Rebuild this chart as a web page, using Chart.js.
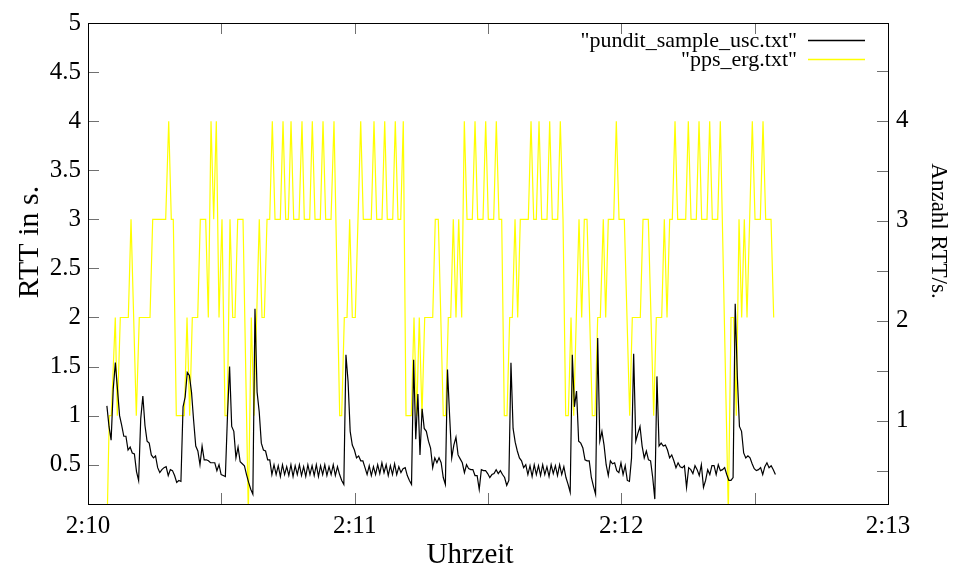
<!DOCTYPE html>
<html>
<head>
<meta charset="utf-8">
<script src="https://cdn.jsdelivr.net/npm/chart.js@4.4.0/dist/chart.umd.min.js"></script>
<style>
body { margin: 0; background: #fff; }
</style>
</head>
<body>
<canvas id="chart" width="954" height="567"></canvas>
<script>
// x axis: seconds after 2:10:00
const xLabelSeconds = [0, 60, 120, 180];
const xLabels = ['2:10', '2:11', '2:12', '2:13'];
const xMinorTicks = [0, 30, 60, 90, 120, 150, 180];
const rttTicks = [0.5, 1, 1.5, 2, 2.5, 3, 3.5, 4, 4.5, 5];
const ppsTicks = [1, 2, 3, 4];
const ppsMinorTicks = [0.5, 1, 1.5, 2, 2.5, 3, 3.5, 4, 4.5];

// "pundit_sample_usc.txt" : RTT samples, one every ~0.476 s from t = 4.25 s
const rttStart = 4.25;
const rttStep = 0.476;
const rttValues = [
  1.10, 0.89, 0.75, 1.27, 1.54, 1.27, 1.00, 0.90, 0.79, 0.79,
  0.65, 0.68, 0.62, 0.61, 0.43, 0.34, 0.97, 1.20, 0.90, 0.74,
  0.72, 0.60, 0.57, 0.59, 0.47, 0.42, 0.45, 0.47, 0.48, 0.39,
  0.45, 0.44, 0.39, 0.32, 0.34, 0.33, 1.09, 1.19, 1.44, 1.41,
  1.24, 0.95, 0.69, 0.64, 0.50, 0.69, 0.55, 0.55, 0.54, 0.52,
  0.52, 0.52, 0.44, 0.50, 0.40, 0.39, 0.38, 1.00, 1.50, 0.89,
  0.84, 0.57, 0.68, 0.53, 0.51, 0.49, 0.40, 0.32, 0.25, 0.20,
  2.09, 1.24, 1.04, 0.72, 0.65, 0.64, 0.55, 0.55, 0.40, 0.50,
  0.40, 0.49, 0.38, 0.50, 0.40, 0.48, 0.39, 0.50, 0.38, 0.49,
  0.40, 0.50, 0.39, 0.48, 0.38, 0.50, 0.40, 0.49, 0.39, 0.50,
  0.38, 0.49, 0.40, 0.50, 0.39, 0.48, 0.40, 0.50, 0.39, 0.48,
  0.40, 0.34, 0.30, 1.62, 1.35, 0.84, 0.70, 0.65, 0.57, 0.59,
  0.54, 0.54, 0.47, 0.40, 0.49, 0.39, 0.48, 0.40, 0.50, 0.41,
  0.52, 0.42, 0.50, 0.39, 0.49, 0.40, 0.51, 0.40, 0.48, 0.42,
  0.46, 0.47, 0.39, 0.34, 0.30, 1.57, 0.76, 1.22, 0.60, 1.07,
  0.87, 0.84, 0.74, 0.67, 0.47, 0.57, 0.52, 0.57, 0.52, 0.37,
  0.30, 1.47, 1.00, 0.57, 0.70, 0.78, 0.60, 0.56, 0.52, 0.42,
  0.50, 0.46, 0.45, 0.45, 0.39, 0.39, 0.25, 0.45, 0.44, 0.44,
  0.41, 0.37, 0.40, 0.41, 0.45, 0.41, 0.44, 0.40, 0.37, 0.29,
  0.34, 1.54, 0.87, 0.73, 0.64, 0.57, 0.54, 0.47, 0.50, 0.40,
  0.49, 0.38, 0.50, 0.40, 0.49, 0.39, 0.50, 0.40, 0.48, 0.38,
  0.50, 0.41, 0.49, 0.39, 0.50, 0.40, 0.48, 0.37, 0.30, 0.22,
  1.62, 1.09, 1.25, 0.74, 0.72, 0.67, 0.55, 0.54, 0.54, 0.37,
  0.28, 0.20, 1.79, 0.74, 0.84, 0.70, 0.50, 0.39, 0.54, 0.51,
  0.52, 0.44, 0.42, 0.52, 0.40, 0.49, 0.34, 0.33, 0.57, 1.63,
  0.74, 0.82, 0.89, 0.69, 0.57, 0.64, 0.55, 0.54, 0.37, 0.15,
  1.40, 0.69, 0.72, 0.69, 0.70, 0.65, 0.57, 0.60, 0.54, 0.47,
  0.52, 0.48, 0.47, 0.49, 0.27, 0.47, 0.45, 0.41, 0.49, 0.45,
  0.39, 0.50, 0.27, 0.34, 0.45, 0.40, 0.49, 0.49, 0.40, 0.50,
  0.44, 0.45, 0.47, 0.40, 0.34, 0.34, 0.37, 2.14, 1.40, 0.89,
  0.84, 0.62, 0.57, 0.59, 0.57, 0.51, 0.46, 0.44, 0.45, 0.47,
  0.40, 0.48, 0.52, 0.47, 0.49, 0.45, 0.40
];

// "pps_erg.txt" : RTTs per second
const ppsTimes = [
  4.34, 4.79, 5.24, 6.14, 6.59, 7.27, 9.07, 9.68, 10.87, 11.54,
  13.95, 14.56, 17.48, 18.16, 18.74, 19.19, 19.87, 21.67, 22.28, 22.88,
  23.47, 24.68, 25.27, 26.48, 27.07, 27.68, 28.28, 28.87, 29.48, 30.15,
  30.83, 31.34, 31.95, 32.56, 33.08, 33.68, 34.88, 36.07, 36.74, 37.35,
  38.54, 39.15, 39.67, 40.28, 40.88, 41.47, 42.08, 43.27, 43.88, 44.48,
  45.07, 45.68, 46.28, 47.48, 48.15, 48.67, 49.88, 50.47, 51.08, 52.27,
  52.88, 53.48, 54.68, 55.35, 56.63, 57.08, 57.67, 58.28, 58.88, 59.47,
  60.14, 61.36, 61.94, 63.74, 64.35, 64.96, 66.15, 66.76, 67.34, 68.56,
  69.14, 69.75, 70.36, 70.94, 71.55, 72.74, 73.35, 73.96, 74.54, 75.15,
  75.76, 77.56, 78.14, 78.82, 79.94, 80.48, 81.07, 81.61, 82.19, 82.80,
  83.41, 84.08, 84.67, 85.28, 86.47, 87.08, 87.68, 88.88, 89.48, 90.07,
  91.28, 91.87, 92.48, 93.08, 93.67, 94.28, 94.88, 95.47, 96.08, 96.68,
  97.27, 99.07, 99.68, 100.28, 100.87, 101.48, 102.08, 103.28, 103.88, 104.47,
  105.68, 106.27, 106.88, 107.48, 108.07, 108.68, 109.28, 109.87, 110.48, 111.08,
  111.67, 112.28, 113.47, 114.08, 114.68, 115.27, 115.94, 116.48, 117.07, 118.28,
  118.87, 119.48, 120.67, 121.88, 122.47, 124.27, 124.88, 126.07, 127.28, 127.87,
  129.08, 129.67, 130.28, 130.88, 131.47, 132.08, 132.68, 134.48, 135.07, 135.68,
  136.87, 137.48, 138.08, 139.28, 139.88, 140.47, 141.68, 142.27, 144.07, 144.68,
  145.28, 145.87, 146.48, 147.08, 147.67, 148.28, 149.47, 150.08, 151.27, 151.88,
  152.48, 153.68, 154.28
];
const ppsValues = [
  0, 1, 1, 2, 1, 2, 2, 3, 1, 2,
  2, 3, 3, 4, 3, 3, 1, 1, 2, 1,
  2, 2, 3, 3, 2, 4, 3, 4, 2, 3,
  1, 1, 3, 2, 2, 3, 3, 0, 2, 1,
  3, 2, 2, 3, 3, 4, 3, 3, 4, 3,
  3, 4, 3, 3, 4, 3, 3, 4, 3, 3,
  4, 3, 3, 4, 1, 1, 2, 2, 3, 2,
  2, 4, 3, 3, 4, 3, 3, 4, 3, 3,
  4, 3, 3, 4, 1, 1, 2, 1, 2, 1,
  2, 2, 3, 3, 1, 1, 2, 2, 3, 2,
  3, 2, 4, 3, 3, 4, 3, 3, 4, 3,
  3, 4, 3, 3, 1, 1, 2, 2, 3, 2,
  3, 3, 4, 3, 3, 4, 3, 3, 4, 3,
  3, 4, 3, 1, 1, 2, 1, 2, 3, 2,
  3, 3, 1, 1, 2, 2, 3, 2, 3, 3,
  4, 3, 3, 1, 2, 2, 3, 3, 1, 2,
  2, 3, 2, 3, 3, 4, 3, 3, 4, 3,
  3, 4, 3, 3, 4, 3, 3, 4, 0, 2,
  2, 1, 3, 2, 3, 2, 4, 3, 3, 4,
  3, 3, 2
];

const seriesNames = ['"pundit_sample_usc.txt"', '"pps_erg.txt"'];
const seriesColors = ['#000000', '#ffff00'];
const axisTitles = { x: 'Uhrzeit', y: 'RTT in s.', y2: 'Anzahl RTT/s.' };

const serif = 'Liberation Serif';
const tickFont = { family: serif, size: 25 };

const rttData = rttValues.map((v, i) => ({ x: rttStart + i * rttStep, y: v }));
const ppsData = ppsTimes.map((t, i) => ({ x: t, y: ppsValues[i] }));

// gnuplot look: black frame, inward tick marks, legend top right, axis titles
const gnuFrame = {
    id: 'gnuFrame',
    afterDatasetsDraw(c) {
        const ctx = c.ctx;
        const a = c.chartArea;
        const x = c.scales.x, y = c.scales.y, y2 = c.scales.y2;
        ctx.save();
        ctx.lineWidth = 1;
        ctx.strokeStyle = '#707070';
        ctx.beginPath();
        xMinorTicks.forEach(function(s) {
            const px = Math.round(x.getPixelForValue(s)) + 0.5;
            ctx.moveTo(px, a.bottom); ctx.lineTo(px, a.bottom - 11);
            ctx.moveTo(px, a.top); ctx.lineTo(px, a.top + 11);
        });
        rttTicks.forEach(function(v) {
            const py = Math.round(y.getPixelForValue(v)) + 0.5;
            ctx.moveTo(a.left, py); ctx.lineTo(a.left + 11, py);
        });
        ppsMinorTicks.forEach(function(v) {
            const py = Math.round(y2.getPixelForValue(v)) + 0.5;
            ctx.moveTo(a.right, py); ctx.lineTo(a.right - 11, py);
        });
        ctx.stroke();

        ctx.strokeStyle = '#000';
        ctx.strokeRect(Math.round(a.left) + 0.5, Math.round(a.top) + 0.5,
            Math.round(a.right - a.left), Math.round(a.bottom - a.top));

        // legend
        ctx.font = '22px "' + serif + '"';
        ctx.fillStyle = '#000';
        ctx.textAlign = 'right';
        ctx.textBaseline = 'alphabetic';
        ctx.lineWidth = 1.3;
        for (let i = 0; i < seriesNames.length; i++) {
            const ly = 40 + i * 19.3;
            ctx.fillText(seriesNames[i], 797, ly + 7);
            ctx.strokeStyle = seriesColors[i];
            ctx.beginPath();
            ctx.moveTo(808, Math.round(ly) + 0.5);
            ctx.lineTo(865, Math.round(ly) + 0.5);
            ctx.stroke();
        }

        // axis titles
        ctx.textAlign = 'center';
        ctx.textBaseline = 'alphabetic';
        ctx.font = '29px "' + serif + '"';
        ctx.fillText(axisTitles.x, 470, 563);
        ctx.save();
        ctx.font = '30px "' + serif + '"';
        ctx.translate(38, 242);
        ctx.rotate(-Math.PI / 2);
        ctx.fillText(axisTitles.y, 0, 0);
        ctx.restore();
        ctx.save();
        ctx.font = '23px "' + serif + '"';
        ctx.translate(932, 231);
        ctx.rotate(Math.PI / 2);
        ctx.fillText(axisTitles.y2, 0, 0);
        ctx.restore();
        ctx.restore();
    }
};

const ctx = document.getElementById('chart').getContext('2d');
const chart = new Chart(ctx, {
    type: 'line',
    data: {
        datasets: [
            {
                label: seriesNames[0],
                data: rttData,
                yAxisID: 'y',
                borderColor: seriesColors[0],
                borderWidth: 1.2,
                pointRadius: 0,
                fill: false
            },
            {
                label: seriesNames[1],
                data: ppsData,
                yAxisID: 'y',
                borderColor: seriesColors[1],
                borderWidth: 1.2,
                pointRadius: 0,
                fill: false
            }
        ]
    },
    options: {
        responsive: false,
        animation: false,
        devicePixelRatio: 1,
        layout: { padding: { top: 20, left: 0, right: 0, bottom: 0 } },
        elements: { line: { tension: 0 } },
        plugins: { legend: { display: false }, tooltip: { enabled: false } },
        scales: {
            x: {
                type: 'linear',
                min: 0,
                max: 180,
                afterBuildTicks: function(s) { s.ticks = xLabelSeconds.map(v => ({ value: v })); },
                afterFit: function(s) { s.height = 63; },
                ticks: {
                    font: tickFont, color: '#000', padding: 7, maxRotation: 0, autoSkip: false,
                    callback: function(v) { return xLabels[xLabelSeconds.indexOf(v)]; }
                },
                grid: { display: false, drawTicks: false },
                border: { display: false }
            },
            y: {
                position: 'left',
                min: 0.1,
                max: 5,
                afterBuildTicks: function(s) { s.ticks = rttTicks.map(v => ({ value: v })); },
                afterFit: function(s) { s.width = 88; },
                ticks: { font: tickFont, color: '#000', padding: 7, callback: v => String(v) },
                grid: { display: false, drawTicks: false },
                border: { display: false }
            },
            y2: {
                position: 'right',
                min: 0.165,
                max: 4.977,
                afterBuildTicks: function(s) { s.ticks = ppsTicks.map(v => ({ value: v })); },
                afterFit: function(s) { s.width = 66; },
                ticks: { font: tickFont, color: '#000', padding: 8, callback: v => String(v) },
                grid: { display: false, drawTicks: false },
                border: { display: false }
            }
        }
    },
    plugins: [gnuFrame]
});
</script>
</body>
</html>
